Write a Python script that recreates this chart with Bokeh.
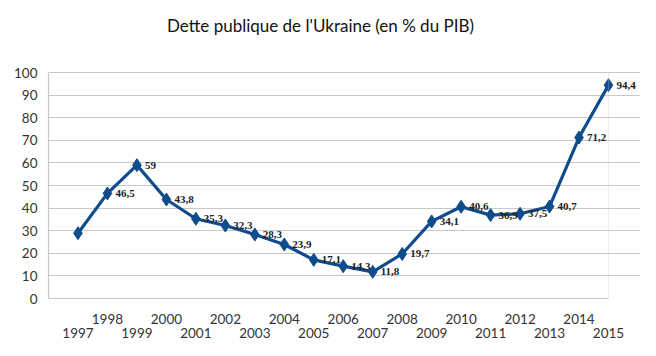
from bokeh.plotting import figure
from bokeh.models import (ColumnDataSource, LinearAxis, FixedTicker, Range1d,
                          LabelSet, BoxAnnotation, Label)
from bokeh.embed import file_html
from bokeh.resources import INLINE

years = [1997, 1998, 1999, 2000, 2001, 2002, 2003, 2004, 2005, 2006,
         2007, 2008, 2009, 2010, 2011, 2012, 2013, 2014, 2015]
debt = [28.9, 46.5, 59.0, 43.8, 35.3, 32.3, 28.3, 23.9, 17.1, 14.3,
        11.8, 19.7, 34.1, 40.6, 36.9, 37.5, 40.7, 71.2, 94.4]
labels = ["", "46,5", "59", "43,8", "35,3", "32,3", "28,3", "23,9", "17,1", "14,3",
          "11,8", "19,7", "34,1", "40,6", "36,9", "37,5", "40,7", "71,2", "94,4"]
y_ticks = [0, 10, 20, 30, 40, 50, 60, 70, 80, 90, 100]
title_text = "Dette publique de l'Ukraine (en % du PIB)"

FONT = "Lato"
first_year, last_year = 1996, 2015
y_min, y_max = 0, 100
src = ColumnDataSource(dict(x=years, y=debt, lab=labels))

# frame fills the top of the canvas; the value 100 sits 72px below the top
p = figure(width=656, height=356, output_backend="svg", toolbar_location=None,
           x_range=Range1d(first_year, 2016.086), y_range=Range1d(y_min, 131.86),
           x_axis_location=None, min_border_left=48, min_border_right=16,
           min_border_top=0, min_border_bottom=58)
p.title.visible = False

p.outline_line_color = None
p.background_fill_color = "white"
p.xgrid.visible = False
p.ygrid.grid_line_color = "#c8c8c8"
p.ygrid.grid_line_width = 1.2
p.ygrid.bounds = (first_year, last_year)

# plot-area border
p.add_layout(BoxAnnotation(left=first_year, right=last_year, bottom=y_min, top=y_max,
                           fill_color=None, line_color="#c8c8c8", line_width=1.2,
                           level="glyph"))

ya = p.yaxis[0]
ya.ticker = FixedTicker(ticks=y_ticks)
ya.bounds = (y_min, y_max)
ya.major_tick_line_color = None
ya.minor_tick_line_color = None
ya.axis_line_color = "#c8c8c8"
ya.axis_line_width = 1.2
ya.major_label_text_font = FONT
ya.major_label_text_font_size = "13.5px"
ya.major_label_text_color = "#333333"
ya.major_label_standoff = 5

even = [y for y in years if y % 2 == 0]
odd = [y for y in years if y % 2 == 1]

ax1 = LinearAxis(ticker=FixedTicker(ticks=even), bounds=(first_year, last_year))
ax2 = LinearAxis(ticker=FixedTicker(ticks=odd))
for ax in (ax1, ax2):
    ax.major_tick_line_color = None
    ax.minor_tick_line_color = None
    ax.major_label_text_font = FONT
    ax.major_label_text_font_size = "13.5px"
    ax.major_label_text_color = "#333333"
    ax.major_label_overrides = {y: str(y) for y in years}
ax1.axis_line_color = "#c8c8c8"
ax1.axis_line_width = 1.2
ax2.axis_line_color = None
ax1.major_label_standoff = 9
ax2.major_label_standoff = -5
p.add_layout(ax1, "below")
p.add_layout(ax2, "below")

color = "#0f4c8c"
p.line("x", "y", source=src, line_color=color, line_width=3.2)
p.scatter("x", "y", source=src, marker="diamond", size=13, fill_color=color,
          line_color=color)

ls = LabelSet(x="x", y="y", text="lab", source=src, x_offset=8, y_offset=0,
              text_font="Open Sans", text_font_size="11px", text_font_style="bold",
              text_color="#222222", text_baseline="middle", text_align="left")
p.add_layout(ls)

# screen units are measured from the frame's bottom-left corner
title = Label(x=272, y=273, x_units="screen", y_units="screen", text=title_text,
              text_font=FONT, text_font_size="17px", text_color="#111111",
              text_align="center", text_baseline="middle")
p.add_layout(title)

open("out.html", "w").write(file_html(p, INLINE))
